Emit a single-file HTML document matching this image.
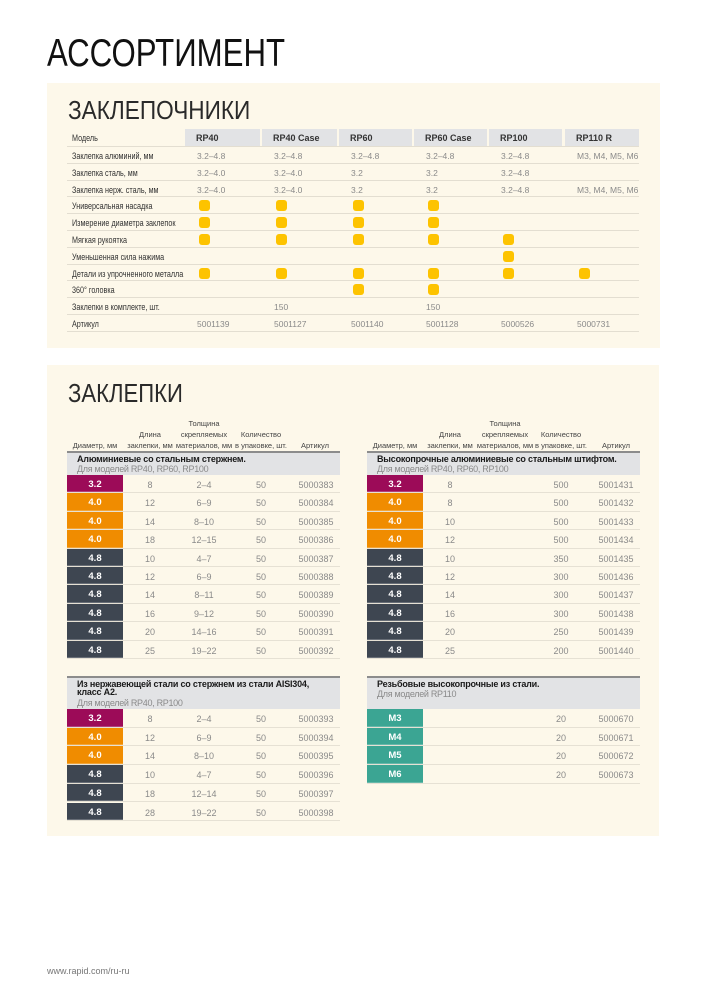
<!DOCTYPE html>
<html><head><meta charset="utf-8">
<style>
*{margin:0;padding:0;box-sizing:border-box}
html,body{width:707px;height:1000px;background:#fff;overflow:hidden}
body{position:relative;font-family:"Liberation Sans","DejaVu Sans",sans-serif;color:#333}
.abs{position:absolute}
.title{position:absolute;left:47px;top:34px;font-size:39px;line-height:39px;color:#111;white-space:nowrap;transform:scaleX(.8);transform-origin:left top}
.panel{position:absolute;background:#fdf8ea}
.h2{position:absolute;font-size:26px;line-height:26px;color:#2a2a2a;white-space:nowrap;transform-origin:left top}
/* table 1 */
.hc{position:absolute;top:129px;height:17px;background:#e2e3e5;font-size:9px;font-weight:bold;line-height:19px;padding-left:11px;color:#333}
.t1r{position:absolute;left:67px;width:572px;height:16.8px;border-bottom:1px solid #e3ded1;line-height:18px}
.lb{position:absolute;left:5px;top:0;font-size:9px;color:#333;white-space:nowrap;transform:scaleX(.8);transform-origin:left center}
.d{position:absolute;top:0;font-size:8.5px;color:#8a8a8a;white-space:nowrap}
.c1{left:130px}.c2{left:207px}.c3{left:284px}.c4{left:359px}.c5{left:434px}.c6{left:510px}
.bu{position:absolute;top:3px;width:11px;height:11px;border-radius:3px;background:#fdc300;margin-left:2px}
/* table 2 */
.hd{position:absolute;top:410px;height:41px;width:80px;display:flex;align-items:flex-end;justify-content:center;text-align:center;font-size:7.5px;line-height:11px;color:#444}
.hline{position:absolute;height:2px;background:#8c8c8c;width:273px}
.gh{position:absolute;background:#e2e3e5;width:273px}
.gt{position:absolute;left:10px;font-size:9px;font-weight:bold;color:#1a1a1a;letter-spacing:-0.2px;white-space:nowrap;line-height:10px}
.gs{position:absolute;left:10px;font-size:9px;color:#8a8a8a;letter-spacing:-0.3px;white-space:nowrap;line-height:10px}
.r{position:absolute;width:273px;border-bottom:1px solid #e6e1d4}
.g1 .r{height:18.4px;line-height:20px}
.g2 .r{height:18.7px;line-height:20px}
.k{position:absolute;left:0;top:0;width:56px;height:100%;color:#fff;font-weight:bold;font-size:9.5px;text-align:center;box-shadow:inset 0 -1px 0 rgba(255,255,255,.22)}
.m{background:#9c0b58}.o{background:#f08c00}.s{background:#3e4651}.t{background:#3ba593}
.v{position:absolute;top:0;width:60px;text-align:center;font-size:9px;color:#8a8a8a}
.a{left:53px}.b{left:107px}.c{left:164px}.e{left:219px}
.foot{position:absolute;left:47px;top:966px;font-size:9px;color:#777}
</style></head><body>

<div class="title">АССОРТИМЕНТ</div>

<!-- PANEL 1 -->
<div class="panel" style="left:47px;top:83px;width:613px;height:265px"></div>
<div class="h2" style="left:68px;top:97px;transform:scaleX(.87)">ЗАКЛЕПОЧНИКИ</div>

<div class="t1r" style="top:129px;height:18px;border-bottom:1px solid #e3ded1;line-height:19px"><span class="lb">Модель</span></div>
<div class="hc" style="left:185px;width:75px">RP40</div>
<div class="hc" style="left:262px;width:75px">RP40 Case</div>
<div class="hc" style="left:339px;width:73px">RP60</div>
<div class="hc" style="left:414px;width:73px">RP60 Case</div>
<div class="hc" style="left:489px;width:73px">RP100</div>
<div class="hc" style="left:565px;width:74px">RP110 R</div>

<div class="t1r" style="top:147px"><span class="lb">Заклепка алюминий, мм</span><span class="d c1">3.2–4.8</span><span class="d c2">3.2–4.8</span><span class="d c3">3.2–4.8</span><span class="d c4">3.2–4.8</span><span class="d c5">3.2–4.8</span><span class="d c6">M3, M4, M5, M6</span></div>
<div class="t1r" style="top:163.8px"><span class="lb">Заклепка сталь, мм</span><span class="d c1">3.2–4.0</span><span class="d c2">3.2–4.0</span><span class="d c3">3.2</span><span class="d c4">3.2</span><span class="d c5">3.2–4.8</span></div>
<div class="t1r" style="top:180.6px"><span class="lb">Заклепка нерж. сталь, мм</span><span class="d c1">3.2–4.0</span><span class="d c2">3.2–4.0</span><span class="d c3">3.2</span><span class="d c4">3.2</span><span class="d c5">3.2–4.8</span><span class="d c6">M3, M4, M5, M6</span></div>
<div class="t1r" style="top:197.4px"><span class="lb">Универсальная насадка</span><span class="bu c1"></span><span class="bu c2"></span><span class="bu c3"></span><span class="bu c4"></span></div>
<div class="t1r" style="top:214.2px"><span class="lb">Измерение диаметра заклепок</span><span class="bu c1"></span><span class="bu c2"></span><span class="bu c3"></span><span class="bu c4"></span></div>
<div class="t1r" style="top:231px"><span class="lb">Мягкая рукоятка</span><span class="bu c1"></span><span class="bu c2"></span><span class="bu c3"></span><span class="bu c4"></span><span class="bu c5"></span></div>
<div class="t1r" style="top:247.8px"><span class="lb">Уменьшенная сила нажима</span><span class="bu c5"></span></div>
<div class="t1r" style="top:264.6px"><span class="lb">Детали из упрочненного металла</span><span class="bu c1"></span><span class="bu c2"></span><span class="bu c3"></span><span class="bu c4"></span><span class="bu c5"></span><span class="bu c6"></span></div>
<div class="t1r" style="top:281.4px"><span class="lb">360° головка</span><span class="bu c3"></span><span class="bu c4"></span></div>
<div class="t1r" style="top:298.2px"><span class="lb">Заклепки в комплекте, шт.</span><span class="d c2">150</span><span class="d c4">150</span></div>
<div class="t1r" style="top:315px"><span class="lb">Артикул</span><span class="d c1">5001139</span><span class="d c2">5001127</span><span class="d c3">5001140</span><span class="d c4">5001128</span><span class="d c5">5000526</span><span class="d c6">5000731</span></div>

<!-- PANEL 2 -->
<div class="panel" style="left:47px;top:365px;width:612px;height:471px"></div>
<div class="h2" style="left:68px;top:380px;transform:scaleX(.85)">ЗАКЛЕПКИ</div>

<!-- left headers -->
<div class="hd" style="left:55px">Диаметр, мм</div>
<div class="hd" style="left:110px">Длина<br>заклепки, мм</div>
<div class="hd" style="left:164px">Толщина<br>скрепляемых<br>материалов, мм</div>
<div class="hd" style="left:221px">Количество<br>в упаковке, шт.</div>
<div class="hd" style="left:275px">Артикул</div>
<!-- right headers -->
<div class="hd" style="left:355px">Диаметр, мм</div>
<div class="hd" style="left:410px">Длина<br>заклепки, мм</div>
<div class="hd" style="left:465px">Толщина<br>скрепляемых<br>материалов, мм</div>
<div class="hd" style="left:521px">Количество<br>в упаковке, шт.</div>
<div class="hd" style="left:576px">Артикул</div>

<!-- LEFT group 1 -->
<div class="hline" style="left:67px;top:451px"></div>
<div class="gh" style="left:67px;top:453px;height:22px">
  <div class="gt" style="top:1px">Алюминиевые со стальным стержнем.</div>
  <div class="gs" style="top:11px">Для моделей RP40, RP60, RP100</div>
</div>
<div class="abs g1" style="left:67px;top:0">
<div class="r" style="top:475px"><div class="k m">3.2</div><div class="v a">8</div><div class="v b">2–4</div><div class="v c">50</div><div class="v e">5000383</div></div>
<div class="r" style="top:493.4px"><div class="k o">4.0</div><div class="v a">12</div><div class="v b">6–9</div><div class="v c">50</div><div class="v e">5000384</div></div>
<div class="r" style="top:511.8px"><div class="k o">4.0</div><div class="v a">14</div><div class="v b">8–10</div><div class="v c">50</div><div class="v e">5000385</div></div>
<div class="r" style="top:530.2px"><div class="k o">4.0</div><div class="v a">18</div><div class="v b">12–15</div><div class="v c">50</div><div class="v e">5000386</div></div>
<div class="r" style="top:548.6px"><div class="k s">4.8</div><div class="v a">10</div><div class="v b">4–7</div><div class="v c">50</div><div class="v e">5000387</div></div>
<div class="r" style="top:567px"><div class="k s">4.8</div><div class="v a">12</div><div class="v b">6–9</div><div class="v c">50</div><div class="v e">5000388</div></div>
<div class="r" style="top:585.4px"><div class="k s">4.8</div><div class="v a">14</div><div class="v b">8–11</div><div class="v c">50</div><div class="v e">5000389</div></div>
<div class="r" style="top:603.8px"><div class="k s">4.8</div><div class="v a">16</div><div class="v b">9–12</div><div class="v c">50</div><div class="v e">5000390</div></div>
<div class="r" style="top:622.2px"><div class="k s">4.8</div><div class="v a">20</div><div class="v b">14–16</div><div class="v c">50</div><div class="v e">5000391</div></div>
<div class="r" style="top:640.6px"><div class="k s">4.8</div><div class="v a">25</div><div class="v b">19–22</div><div class="v c">50</div><div class="v e">5000392</div></div>
</div>

<!-- RIGHT group 1 -->
<div class="hline" style="left:367px;top:451px"></div>
<div class="gh" style="left:367px;top:453px;height:22px">
  <div class="gt" style="top:1px">Высокопрочные алюминиевые со стальным штифтом.</div>
  <div class="gs" style="top:11px">Для моделей RP40, RP60, RP100</div>
</div>
<div class="abs g1" style="left:367px;top:0">
<div class="r" style="top:475px"><div class="k m">3.2</div><div class="v a">8</div><div class="v c">500</div><div class="v e">5001431</div></div>
<div class="r" style="top:493.4px"><div class="k o">4.0</div><div class="v a">8</div><div class="v c">500</div><div class="v e">5001432</div></div>
<div class="r" style="top:511.8px"><div class="k o">4.0</div><div class="v a">10</div><div class="v c">500</div><div class="v e">5001433</div></div>
<div class="r" style="top:530.2px"><div class="k o">4.0</div><div class="v a">12</div><div class="v c">500</div><div class="v e">5001434</div></div>
<div class="r" style="top:548.6px"><div class="k s">4.8</div><div class="v a">10</div><div class="v c">350</div><div class="v e">5001435</div></div>
<div class="r" style="top:567px"><div class="k s">4.8</div><div class="v a">12</div><div class="v c">300</div><div class="v e">5001436</div></div>
<div class="r" style="top:585.4px"><div class="k s">4.8</div><div class="v a">14</div><div class="v c">300</div><div class="v e">5001437</div></div>
<div class="r" style="top:603.8px"><div class="k s">4.8</div><div class="v a">16</div><div class="v c">300</div><div class="v e">5001438</div></div>
<div class="r" style="top:622.2px"><div class="k s">4.8</div><div class="v a">20</div><div class="v c">250</div><div class="v e">5001439</div></div>
<div class="r" style="top:640.6px"><div class="k s">4.8</div><div class="v a">25</div><div class="v c">200</div><div class="v e">5001440</div></div>
</div>

<!-- LEFT group 2 -->
<div class="hline" style="left:67px;top:676px"></div>
<div class="gh" style="left:67px;top:678px;height:31px">
  <div class="gt" style="top:1px">Из нержавеющей стали со стержнем из стали AISI304,</div>
  <div class="gt" style="top:9px">класс A2.</div>
  <div class="gs" style="top:20px">Для моделей RP40, RP100</div>
</div>
<div class="abs g2" style="left:67px;top:0">
<div class="r" style="top:709px"><div class="k m">3.2</div><div class="v a">8</div><div class="v b">2–4</div><div class="v c">50</div><div class="v e">5000393</div></div>
<div class="r" style="top:727.7px"><div class="k o">4.0</div><div class="v a">12</div><div class="v b">6–9</div><div class="v c">50</div><div class="v e">5000394</div></div>
<div class="r" style="top:746.4px"><div class="k o">4.0</div><div class="v a">14</div><div class="v b">8–10</div><div class="v c">50</div><div class="v e">5000395</div></div>
<div class="r" style="top:765.1px"><div class="k s">4.8</div><div class="v a">10</div><div class="v b">4–7</div><div class="v c">50</div><div class="v e">5000396</div></div>
<div class="r" style="top:783.8px"><div class="k s">4.8</div><div class="v a">18</div><div class="v b">12–14</div><div class="v c">50</div><div class="v e">5000397</div></div>
<div class="r" style="top:802.5px"><div class="k s">4.8</div><div class="v a">28</div><div class="v b">19–22</div><div class="v c">50</div><div class="v e">5000398</div></div>
</div>

<!-- RIGHT group 2 -->
<div class="hline" style="left:367px;top:676px"></div>
<div class="gh" style="left:367px;top:678px;height:31px">
  <div class="gt" style="top:1px">Резьбовые высокопрочные из стали.</div>
  <div class="gs" style="top:11px">Для моделей RP110</div>
</div>
<div class="abs g2" style="left:367px;top:0">
<div class="r" style="top:709px"><div class="k t">M3</div><div class="v c">20</div><div class="v e">5000670</div></div>
<div class="r" style="top:727.7px"><div class="k t">M4</div><div class="v c">20</div><div class="v e">5000671</div></div>
<div class="r" style="top:746.4px"><div class="k t">M5</div><div class="v c">20</div><div class="v e">5000672</div></div>
<div class="r" style="top:765.1px"><div class="k t">M6</div><div class="v c">20</div><div class="v e">5000673</div></div>
</div>

<div class="foot">www.rapid.com/ru-ru</div>
</body></html>
